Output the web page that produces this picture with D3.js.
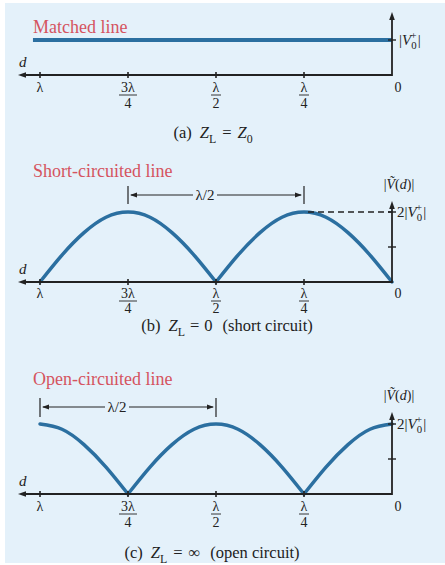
<!DOCTYPE html>
<html><head><meta charset="utf-8">
<script src="https://cdn.jsdelivr.net/npm/d3@7"></script>
<style>
body{margin:0;background:#fff}
svg{display:block}
svg text{font-family:"Liberation Serif","Tinos","Times New Roman","Nimbus Roman","DejaVu Serif",serif;}
</style></head>
<body>
<svg id="chart" width="445" height="565"></svg>
<script>
// ---------- data ----------
const tickPositions = [1, 0.75, 0.5, 0.25, 0];          // d / λ
const tickNumerators = ["λ", "3λ", "λ", "λ", "0"];
const tickDenominators = ["", "4", "2", "4", ""];
const sampleD = [1, 0.9375, 0.875, 0.8125, 0.75, 0.6875, 0.625, 0.5625, 0.5,
                 0.4375, 0.375, 0.3125, 0.25, 0.1875, 0.125, 0.0625, 0];
const shortValues = [0, 0.77, 1.41, 1.85, 2, 1.85, 1.41, 0.77, 0,
                     0.77, 1.41, 1.85, 2, 1.85, 1.41, 0.77, 0];
const openValues = [2, 1.85, 1.41, 0.77, 0, 0.77, 1.41, 1.85, 2,
                    1.85, 1.41, 0.77, 0, 0.77, 1.41, 1.85, 2];
const matchedD = [1.02, 0];
const matchedValues = [1, 1];
const panelTitles = ["Matched line", "Short-circuited line", "Open-circuited line"];
const halfWaveSpans = [null, [0.75, 0.25], [1, 0.5]];
const dashedPeakSpan = [0.25, 0];

// ---------- style ----------
const BG = "#e4f1fa", LINE = "#2b6fa0", AXIS = "#222", TITLE = "#d5545f";

const svg = d3.select("#chart");
svg.append("rect").attr("x", 5).attr("y", 3).attr("width", 440).attr("height", 560).attr("fill", BG);

const x = d3.scaleLinear().domain([1, 0]).range([40, 392]);

function rich(g, px, py, parts, size, anchor) {
  const t = g.append("text").attr("x", px).attr("y", py)
    .attr("font-size", size).attr("fill", AXIS)
    .attr("text-anchor", anchor || "start");
  let shift = 0;
  parts.forEach(p => {
    const target = p.sub ? size * 0.28 : p.sup ? -size * 0.42 : 0;
    const ts = t.append("tspan").text(p.t).attr("dy", target - shift);
    if (p.dx) ts.attr("dx", p.dx);
    if (p.i) ts.attr("font-style", "italic");
    if (p.sub || p.sup) ts.attr("font-size", size * 0.72);
    shift = target;
  });
  return t;
}

function arrowHead(g, px, py, dir, len, half) {
  let pts;
  if (dir === "left") pts = [[px, py], [px + len, py - half], [px + len, py + half]];
  else if (dir === "right") pts = [[px, py], [px - len, py - half], [px - len, py + half]];
  else pts = [[px, py], [px - half, py + len], [px + half, py + len]];
  g.append("path").attr("d", d3.line()(pts) + "Z").attr("fill", AXIS);
}

const layouts = [
  { axisY: 75, top: 12, titleY: 33, capY: 138, capX: 213, numDy: 17, barDy: 20, denDy: 33 },
  { axisY: 282, top: 201, titleY: 177, capY: 331, capX: 227, numDy: 16, barDy: 19, denDy: 31, dimY: 195, dimTop: 186, dimBot: 204 },
  { axisY: 494, top: 412, titleY: 385, capY: 558, capX: 212, numDy: 17, barDy: 20, denDy: 33, dimY: 407, dimTop: 398, dimBot: 417 }
];

const captions = [
  [{ t: "(a)" }, { t: "Z", i: true, dx: 8 }, { t: "L", sub: true }, { t: "=", dx: 6 }, { t: "Z", i: true, dx: 6 }, { t: "0", sub: true }],
  [{ t: "(b)" }, { t: "Z", i: true, dx: 8 }, { t: "L", sub: true }, { t: "=", dx: 5 }, { t: "0", dx: 5 }, { t: "(short circuit)", dx: 10 }],
  [{ t: "(c)" }, { t: "Z", i: true, dx: 8 }, { t: "L", sub: true }, { t: "=", dx: 6 }, { t: "∞", dx: 6 }, { t: "(open circuit)", dx: 10 }]
];

layouts.forEach((L, pi) => {
  const g = svg.append("g");
  const y = d3.scaleLinear().domain([0, 2]).range([L.axisY, L.axisY - 70]);

  g.append("text").attr("x", 33).attr("y", L.titleY)
    .attr("font-size", 18).attr("fill", TITLE).text(panelTitles[pi]);

  const line = d3.line().x(d => x(d[0])).y(d => y(d[1]));
  if (pi === 0) {
    g.append("path").datum(matchedD.map((d, i) => [d, matchedValues[i]]))
      .attr("d", line).attr("fill", "none").attr("stroke", LINE).attr("stroke-width", 4);
  } else {
    const vals = pi === 1 ? shortValues : openValues;
    const pts = sampleD.map((d, i) => [d, vals[i]]);
    const segs = [];
    let cur = [];
    pts.forEach(p => {
      cur.push(p);
      if (p[1] === 0 && cur.length > 1) { segs.push(cur); cur = [p]; }
    });
    if (cur.length > 1) segs.push(cur);
    const curve = d3.line().x(d => x(d[0])).y(d => y(d[1])).curve(d3.curveNatural);
    segs.forEach(s => g.append("path").attr("d", curve(s)).attr("fill", "none")
      .attr("stroke", LINE).attr("stroke-width", 3.5).attr("stroke-linecap", "round"));
    if (pi === 1) {
      g.append("line").attr("x1", x(dashedPeakSpan[0]) + 4).attr("x2", x(dashedPeakSpan[1]))
        .attr("y1", y(2)).attr("y2", y(2)).attr("stroke", AXIS).attr("stroke-width", 1.3)
        .attr("stroke-dasharray", "6,4");
    }
    const span = halfWaveSpans[pi];
    const x1 = x(span[0]), x2 = x(span[1]);
    [x1, x2].forEach(xx => g.append("line").attr("x1", xx).attr("x2", xx)
      .attr("y1", L.dimTop).attr("y2", L.dimBot).attr("stroke", AXIS).attr("stroke-width", 1.2));
    const lc = (x1 + x2) / 2 - 11;
    g.append("line").attr("x1", x1 + 3).attr("x2", lc - 12).attr("y1", L.dimY).attr("y2", L.dimY)
      .attr("stroke", AXIS).attr("stroke-width", 1);
    g.append("line").attr("x1", lc + 12).attr("x2", x2 - 3).attr("y1", L.dimY).attr("y2", L.dimY)
      .attr("stroke", AXIS).attr("stroke-width", 1);
    arrowHead(g, x1 + 2, L.dimY, "left", 7, 2.5);
    arrowHead(g, x2 - 2, L.dimY, "right", 7, 2.5);
    g.append("text").attr("x", lc).attr("y", L.dimY + 5).attr("text-anchor", "middle")
      .attr("font-size", 15).attr("fill", AXIS).text("λ/2");

    rich(g, 399, L.top - 12, [{ t: "|" }, { t: "Ṽ", i: true }, { t: "(" }, { t: "d", i: true }, { t: ")|" }], 14, "middle");
    rich(g, 397, y(2) + 5, [{ t: "2|" }, { t: "V", i: true }, { t: "0", sub: true }, { t: "+", sup: true, dx: -6 }, { t: "|", dx: 1 }], 15);
  }
  if (pi === 0) {
    rich(g, 399, y(1) + 5, [{ t: "|" }, { t: "V", i: true }, { t: "0", sub: true }, { t: "+", sup: true, dx: -6 }, { t: "|", dx: 1 }], 15);
  }

  g.append("line").attr("x1", 24).attr("x2", x(0)).attr("y1", L.axisY).attr("y2", L.axisY)
    .attr("stroke", AXIS).attr("stroke-width", 1.8);
  arrowHead(g, 18, L.axisY, "left", 8, 2.8);
  g.append("line").attr("x1", x(0)).attr("x2", x(0)).attr("y1", L.axisY + 0.9).attr("y2", L.top + 6)
    .attr("stroke", AXIS).attr("stroke-width", 1.8);
  arrowHead(g, x(0), L.top, "up", 8, 2.8);
  const vt = pi === 0 ? [1] : [1, 2];
  vt.forEach(v => g.append("line").attr("x1", x(0) - 4).attr("x2", x(0) + 4)
    .attr("y1", y(v)).attr("y2", y(v)).attr("stroke", AXIS).attr("stroke-width", 1.4));

  g.append("text").attr("x", 19).attr("y", L.axisY - 8)
    .attr("font-style", "italic").attr("font-size", 15).attr("fill", AXIS).text("d");

  tickPositions.forEach((d, i) => {
    const tx = x(d);
    if (d !== 0) g.append("line").attr("x1", tx).attr("x2", tx).attr("y1", L.axisY - 3).attr("y2", L.axisY + 3)
      .attr("stroke", AXIS).attr("stroke-width", 1.6);
    const lx = d === 0 ? tx + 6 : tx;
    g.append("text").attr("x", lx).attr("y", L.axisY + L.numDy).attr("text-anchor", "middle")
      .attr("font-size", 14).attr("fill", AXIS).text(tickNumerators[i]);
    if (tickDenominators[i]) {
      const w = tickNumerators[i].length > 1 ? 9 : 5;
      g.append("line").attr("x1", tx - w).attr("x2", tx + w).attr("y1", L.axisY + L.barDy).attr("y2", L.axisY + L.barDy)
        .attr("stroke", AXIS).attr("stroke-width", 0.9);
      g.append("text").attr("x", tx).attr("y", L.axisY + L.denDy).attr("text-anchor", "middle")
        .attr("font-size", 14).attr("fill", AXIS).text(tickDenominators[i]);
    }
  });

  rich(g, L.capX, L.capY, captions[pi], 16.5, "middle");
});
</script>
</body></html>
